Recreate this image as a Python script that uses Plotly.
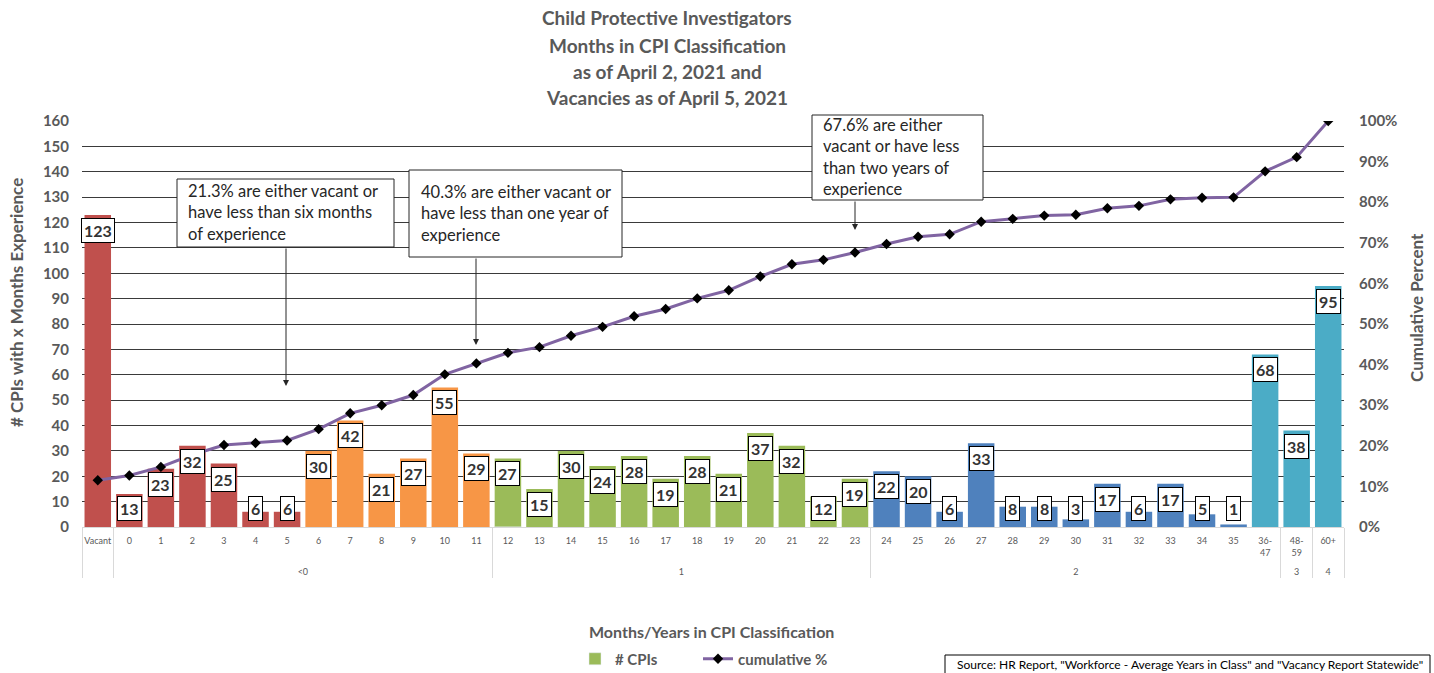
import plotly.graph_objects as go

# ---------------- data ----------------
sub_labels = ["Vacant", "0", "1", "2", "3", "4", "5", "6", "7", "8", "9", "10", "11",
              "12", "13", "14", "15", "16", "17", "18", "19", "20", "21", "22", "23",
              "24", "25", "26", "27", "28", "29", "30", "31", "32", "33", "34", "35",
              "36-<br>47<br> ", "48-<br>59<br> ", "60+"]
group_labels = [" "] + ["<0"] * 12 + ["1"] * 12 + ["2"] * 13 + ["3"] + ["4"]
cpi_counts = [123, 13, 23, 32, 25, 6, 6, 30, 42, 21, 27, 55, 29,
              27, 15, 30, 24, 28, 19, 28, 21, 37, 32, 12, 19,
              22, 20, 6, 33, 8, 8, 3, 17, 6, 17, 5, 1,
              68, 38, 95]
cumulative_pct = [11.5, 12.7, 14.8, 17.8, 20.2, 20.7, 21.3, 24.1, 28.0, 30.0, 32.5, 37.6, 40.3,
                  42.9, 44.3, 47.1, 49.3, 51.9, 53.7, 56.3, 58.3, 61.7, 64.7, 65.8, 67.6,
                  69.7, 71.5, 72.1, 75.2, 75.9, 76.7, 76.9, 78.5, 79.1, 80.7, 81.1, 81.2,
                  87.6, 91.1, 100.0]
title_lines = ["Child Protective Investigators", "Months in CPI Classification",
               "as of April 2, 2021 and", "Vacancies as of April 5, 2021"]
callouts = [
    "21.3% are either vacant or<br>have less than six months<br>of experience",
    "40.3% are either vacant or<br>have less than one year of<br>experience",
    "67.6% are either<br>vacant or have less<br>than two years of<br>experience",
]
source_text = 'Source: HR Report, "Workforce - Average Years in Class" and "Vacancy Report Statewide"'

# ---------------- styling ----------------
RED, ORANGE, GREEN, BLUE, TEAL = "#C0504D", "#F79646", "#9BBB59", "#4F81BD", "#4BACC6"
segment_colors = [(RED, 7), (ORANGE, 6), (GREEN, 12), (BLUE, 12), (TEAL, 3)]
bar_colors = [c for c, n in segment_colors for _ in range(n)]
GRAY = "#595959"
FONT = "Lato"

W, H = 1434, 673
L, R, T, B = 82, 90, 121, 146
PW, PH = W - L - R, H - T - B


def px2x(px):
    return (px - L) / PW


def py2y(py):
    return (H - B - py) / PH


x_multi = [group_labels, sub_labels]

fig = go.Figure()
fig.add_trace(go.Bar(
    x=x_multi, y=cpi_counts, marker=dict(color=bar_colors, line=dict(width=0)),
    name="# CPIs", showlegend=False, hoverinfo="y",
))
# legend swatch for bars (green)
fig.add_trace(go.Bar(
    x=[[group_labels[13]], [sub_labels[13]]], y=[0], marker=dict(color=GREEN),
    name="# CPIs", showlegend=True, hoverinfo="skip", legend="legend",
))
fig.add_trace(go.Scatter(
    x=x_multi, y=cumulative_pct, yaxis="y2", mode="lines+markers", name="cumulative %",
    line=dict(color="#8064A2", width=3),
    marker=dict(symbol="diamond", color="black", size=8), legend="legend2",
))

annotations = []
# data labels
for i, v in enumerate(cpi_counts):
    annotations.append(dict(
        x=i, y=max(v, 13.4), xref="x", yref="y", yanchor="top", yshift=-3,
        text=f"<b>{v}</b>", showarrow=False,
        font=dict(family=FONT, size=16, color="#333333"),
        bgcolor="white", bordercolor="black", borderwidth=1, borderpad=2,
    ))

# title
for line, py in zip(title_lines, [18, 45, 71, 97]):
    annotations.append(dict(
        x=px2x(667), y=py2y(py), xref="paper", yref="paper",
        xanchor="center", yanchor="middle", text=f"<b>{line}</b>", showarrow=False,
        font=dict(family=FONT, size=19, color=GRAY),
    ))

# callout boxes
boxes = [(177, 179, 394, 247), (409, 170, 622, 257), (812, 115, 983, 200)]
text_pos = [(187, 180), (420, 181), (822, 114)]
arrows = [(286, 247, 386), (476, 257, 345), (855, 200, 230)]
shapes = []
for (x0, y0, x1, y1), (tx, ty), txt, (axp, ys, ye) in zip(boxes, text_pos, callouts, arrows):
    shapes.append(dict(type="rect", xref="paper", yref="paper",
                       x0=px2x(x0), x1=px2x(x1), y0=py2y(y1), y1=py2y(y0),
                       line=dict(color="#262626", width=1), fillcolor="white", layer="above"))
    annotations.append(dict(
        x=px2x(tx), y=py2y(ty), xref="paper", yref="paper", xanchor="left", yanchor="top",
        text=txt, align="left", showarrow=False, borderpad=0,
        font=dict(family=FONT, size=16.5, color="#262626"),
    ))
    annotations.append(dict(
        x=px2x(axp), y=py2y(ye), xref="paper", yref="paper", text="", showarrow=True,
        ax=0, ay=-(ye - ys), axref="pixel", ayref="pixel",
        arrowhead=2, arrowsize=1.2, arrowwidth=1, arrowcolor="#262626",
    ))

# axis titles
annotations.append(dict(
    x=px2x(16), y=py2y(303), xref="paper", yref="paper", textangle=-90,
    xanchor="center", yanchor="middle",
    text="<b># CPIs with x Months Experience</b>", showarrow=False,
    font=dict(family=FONT, size=17, color=GRAY),
))
annotations.append(dict(
    x=px2x(1416), y=py2y(308), xref="paper", yref="paper", textangle=-90,
    xanchor="center", yanchor="middle",
    text="<b>Cumulative Percent</b>", showarrow=False,
    font=dict(family=FONT, size=17, color=GRAY),
))
annotations.append(dict(
    x=px2x(711), y=py2y(631), xref="paper", yref="paper", xanchor="center", yanchor="middle",
    text="<b>Months/Years in CPI Classification</b>", showarrow=False,
    font=dict(family=FONT, size=16, color=GRAY),
))
# source box
shapes.append(dict(type="rect", xref="paper", yref="paper",
                   x0=px2x(945), x1=px2x(1430), y0=py2y(690), y1=py2y(655),
                   line=dict(color="black", width=1), fillcolor="white", layer="above"))
annotations.append(dict(
    x=px2x(955), y=py2y(664), xref="paper", yref="paper", xanchor="left", yanchor="middle",
    text=source_text, showarrow=False, align="left",
    font=dict(family=FONT, size=12, color="black"),
))

legend_font = dict(family=FONT, size=15, color=GRAY, weight="bold")
fig.update_layout(
    width=W, height=H,
    margin=dict(l=L, r=R, t=T, b=B, autoexpand=False),
    paper_bgcolor="white", plot_bgcolor="white",
    barmode="overlay", bargap=0.16,
    font=dict(family=FONT, color=GRAY),
    xaxis=dict(
        type="multicategory", range=[-0.5, len(sub_labels) - 0.5], autorange=False,
        showgrid=False, ticks="", showline=True, tickangle=0, ticklabelstandoff=5,
        linecolor="#D9D9D9", linewidth=1, dividercolor="#D9D9D9", dividerwidth=1,
        tickfont=dict(family=FONT, size=9, color=GRAY),
    ),
    yaxis=dict(
        range=[0, 160], dtick=10, showgrid=True, gridcolor="#3a3a3a", gridwidth=1,
        zeroline=False, showline=False, ticks="", ticklabelstandoff=12,
        tickfont=dict(family=FONT, size=15, color=GRAY, weight="bold"),
    ),
    yaxis2=dict(
        range=[0, 100], dtick=10, ticksuffix="%", overlaying="y", side="right",
        showgrid=False, zeroline=False, showline=False, ticks="", ticklabelstandoff=14,
        tickfont=dict(family=FONT, size=15, color=GRAY, weight="bold"),
    ),
    legend=dict(
        orientation="h", x=px2x(575), xanchor="left", y=py2y(659), yanchor="middle",
        font=legend_font, bgcolor="rgba(0,0,0,0)",
    ),
    legend2=dict(
        orientation="h", x=px2x(698), xanchor="left", y=py2y(659), yanchor="middle",
        font=legend_font, bgcolor="rgba(0,0,0,0)",
    ),
    annotations=annotations,
    shapes=shapes,
    showlegend=True,
)

fig.write_html("out.html", config={"displayModeBar": False},
               post_script="document.body.style.margin='0';")
